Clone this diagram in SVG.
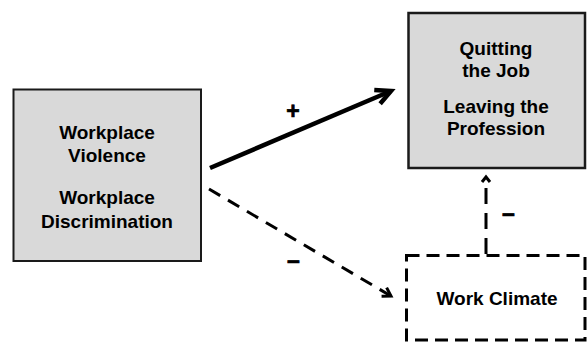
<svg xmlns="http://www.w3.org/2000/svg" width="587" height="342" viewBox="0 0 587 342">
  <style>
    .box { fill: #d9d9d9; stroke: #1a1a1a; }
    .dbox { fill: #ffffff; stroke: #000; stroke-width: 3; stroke-dasharray: 13 7; }
    .lbl { font-family: "Liberation Sans", Arial, Helvetica, sans-serif; font-weight: bold; font-size: 19px; fill: #000; text-anchor: middle; }
    .sign { font-family: "Liberation Sans", Arial, Helvetica, sans-serif; font-weight: bold; font-size: 23px; fill: #000; stroke: #000; stroke-width: 0.7; text-anchor: middle; }
    .solid { fill: none; stroke: #000; stroke-width: 4.5; }
    .dash { fill: none; stroke: #000; stroke-width: 3; stroke-dasharray: 13 9; }
    .vdash { fill: none; stroke: #000; stroke-width: 3; stroke-dasharray: 16 9; }
  </style>
  <defs>
    <marker id="headBig" markerUnits="userSpaceOnUse" viewBox="-20 -12 24 24" refX="0" refY="0" markerWidth="24" markerHeight="24" orient="auto" overflow="visible">
      <path d="M-15,-7.5 L0,0 L-15,7.5" fill="none" stroke="#000" stroke-width="4.5" stroke-linejoin="miter"/>
    </marker>
    <marker id="headSmall" markerUnits="userSpaceOnUse" viewBox="-12 -8 14 16" refX="0" refY="0" markerWidth="14" markerHeight="16" orient="auto" overflow="visible">
      <path d="M-8,-5 L0,0 L-8,5" fill="none" stroke="#000" stroke-width="3" stroke-linejoin="miter"/>
    </marker>
    <marker id="headTiny" markerUnits="userSpaceOnUse" viewBox="-10 -8 12 16" refX="0" refY="0" markerWidth="12" markerHeight="16" orient="auto" overflow="visible">
      <path d="M-5,-4 L0,0 L-5,4" fill="none" stroke="#000" stroke-width="3" stroke-linejoin="miter"/>
    </marker>
  </defs>

  <g id="node-workplace">
    <rect class="box" x="13.5" y="89.5" width="187.5" height="171.5" stroke-width="2"/>
    <text class="lbl" x="107" y="139">Workplace</text>
    <text class="lbl" x="107" y="162">Violence</text>
    <text class="lbl" x="107" y="204">Workplace</text>
    <text class="lbl" x="107" y="228">Discrimination</text>
  </g>

  <g id="node-quitting">
    <rect class="box" x="408.5" y="13" width="176.5" height="155" stroke-width="2.5"/>
    <text class="lbl" x="496" y="55">Quitting</text>
    <text class="lbl" x="496" y="77">the Job</text>
    <text class="lbl" x="496" y="113">Leaving the</text>
    <text class="lbl" x="496" y="135">Profession</text>
  </g>

  <g id="node-climate">
    <rect class="dbox" x="406.5" y="255.5" width="178.5" height="84.5"/>
    <text class="lbl" x="497" y="305">Work Climate</text>
  </g>

  <g id="connectors">
    <path class="solid" d="M210,168 L391,91" marker-end="url(#headBig)"/>
    <text class="sign" x="293" y="119">+</text>
    <path class="dash" d="M209,189 L391,296" marker-end="url(#headSmall)"/>
    <text class="sign" x="293.5" y="268">–</text>
    <path class="vdash" d="M486,254 L486,177" marker-end="url(#headTiny)"/>
    <text class="sign" x="508.5" y="221">–</text>
  </g>
</svg>
